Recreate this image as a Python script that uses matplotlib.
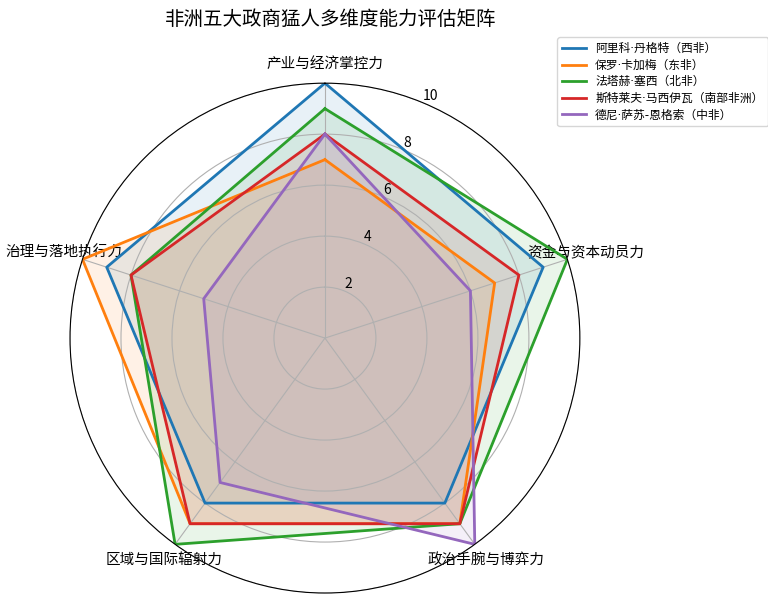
import numpy as np
import matplotlib
matplotlib.use("Agg")
import matplotlib.pyplot as plt

plt.rcParams['font.family'] = ['Noto Sans CJK SC', 'DejaVu Sans']

# 维度与数据
dimensoes = ["产业与经济掌控力", "资金与资本动员力", "政治手腕与博弈力", "区域与国际辐射力", "治理与落地执行力"]
nomes = ["阿里科·丹格特（西非）", "保罗·卡加梅（东非）", "法塔赫·塞西（北非）",
         "斯特莱夫·马西伊瓦（南部非洲）", "德尼·萨苏-恩格索（中非）"]
dangote = [10, 9, 8, 8, 9]
kagame = [7, 7, 9, 9, 10]
sisi = [9, 10, 9, 10, 8]
masiyiwa = [8, 8, 9, 9, 8]
sassou = [8, 6, 10, 7, 5]
valores = [dangote, kagame, sisi, masiyiwa, sassou]

angulos = np.linspace(0, 2 * np.pi, len(dimensoes), endpoint=False).tolist()
angulos += angulos[:1]

fig = plt.figure(figsize=(7.68, 6.07), dpi=100)
ax = fig.add_axes([0.0911, 0.023, 0.664, 0.840], polar=True)
ax.set_theta_offset(np.pi / 2)
ax.set_theta_direction(-1)

for nome, v in zip(nomes, valores):
    v = v + v[:1]
    linha, = ax.plot(angulos, v, linewidth=2, label=nome)
    ax.fill(angulos, v, color=linha.get_color(), alpha=0.1)

ax.set_xticks(angulos[:-1])
ax.set_xticklabels(dimensoes, fontsize=10.5)
ax.set_ylim(0, 10)
ax.set_yticks([2, 4, 6, 8, 10])
ax.set_yticklabels(["2", "4", "6", "8", "10"], fontsize=10)
ax.set_rlabel_position(22.5)
ax.grid(color="#b0b0b0", linewidth=0.8)

fig.text(0.43, 0.968, "非洲五大政商猛人多维度能力评估矩阵", ha="center", va="center", fontsize=14)

# legenda: ponto médio estreito como na referência
leg = fig.legend(loc="upper left", bbox_to_anchor=(0.718, 0.948), labelspacing=0.3,
                 prop={"family": ["DejaVu Sans", "Noto Sans CJK SC"], "size": 8.5})

plt.savefig("out.png", dpi=100)
